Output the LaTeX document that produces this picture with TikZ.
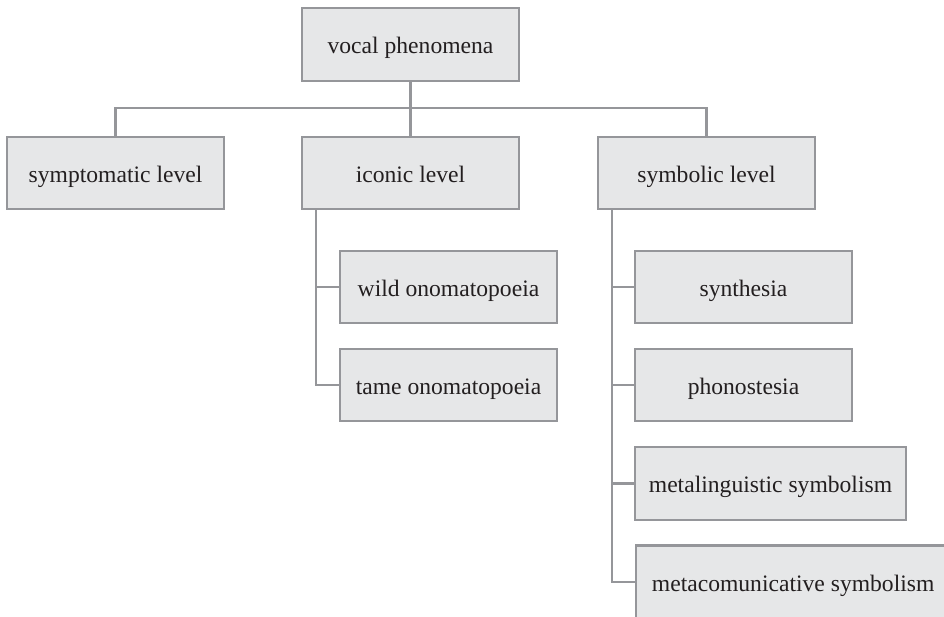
\documentclass[tikz,border=0pt]{standalone}
\usepackage{fontspec}
\setmainfont{Liberation Serif}
\definecolor{boxfill}{HTML}{E6E7E8}
\definecolor{linegray}{HTML}{95969A}
\definecolor{txt}{HTML}{231F20}
\begin{document}
\begin{tikzpicture}[x=1pt,y=-1pt,
  box/.style={draw=linegray,fill=boxfill,line width=2.3pt,minimum width=217pt,minimum height=72pt,inner sep=0pt,text height=22pt,text depth=4pt,text=txt,font=\fontsize{23.6}{26}\selectfont},
  conn/.style={draw=linegray,line width=2.3pt}]
\useasboundingbox (0,0) rectangle (944,616);
\clip (0,0) rectangle (944,616);
\node[box,minimum height=73pt] (vp) at (410.5,44.5) {vocal phenomena};
\node[box] (sym) at (115.5,173) {symptomatic level};
\node[box] (ico) at (410.5,173) {iconic level};
\node[box] (sbl) at (706.5,173) {symbolic level};
\node[box] (wild) at (448.5,287) {wild onomatopoeia};
\node[box] (tame) at (448.5,385) {tame onomatopoeia};
\node[box] (synth) at (743.5,287) {synthesia};
\node[box] (phono) at (743.5,385) {phonostesia};
\node[box,minimum width=271pt,minimum height=73pt] (meta) at (770.5,483.5) {metalinguistic symbolism};
\node[box,minimum width=340pt,minimum height=73pt,anchor=west] (metac) at (635,582) {metacomunicative symbolism\kern26pt};
\coordinate (bar) at (410.5,108);
\coordinate (icoline) at ([xshift=15pt]ico.south west);
\coordinate (sblline) at ([xshift=15pt]sbl.south west);
\draw[conn] (vp.south) -- (ico.north);
\draw[conn] (sym.north) |- (bar) -| (sbl.north);
\draw[conn] (icoline) |- (wild.west);
\draw[conn] (icoline) |- (tame.west);
\draw[conn] (sblline) |- (synth.west);
\draw[conn] (sblline) |- (phono.west);
\draw[conn] (sblline) |- (meta.west);
\draw[conn] (sblline) |- (metac.west);
\end{tikzpicture}
\end{document}
